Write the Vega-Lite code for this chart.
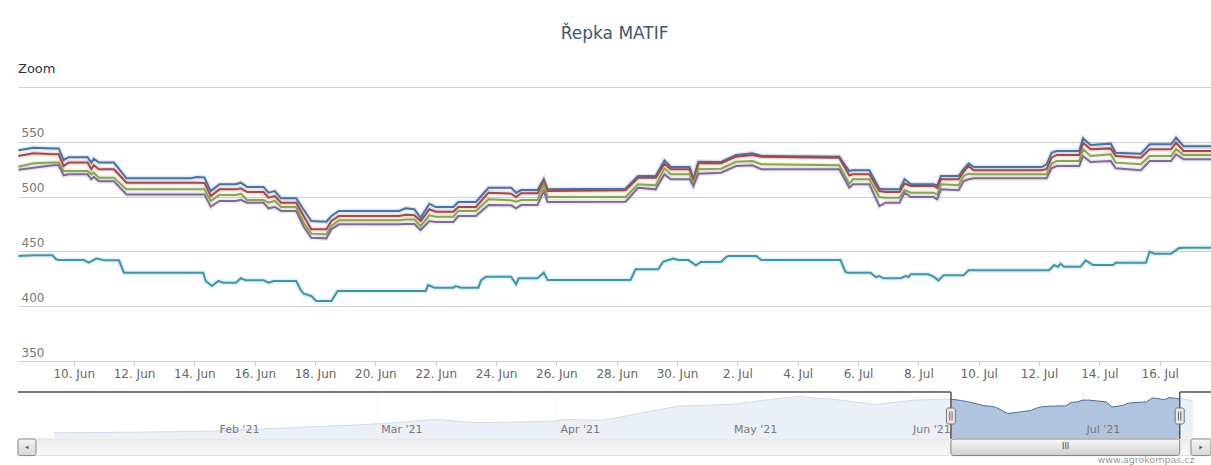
{
  "$schema": "https://vega.github.io/schema/vega-lite/v6.json",
  "background": "#ffffff",
  "padding": {"left": 17, "right": 0, "top": 25, "bottom": 0},
  "title": {"text": "Řepka MATIF", "fontSize": 17, "fontWeight": "normal", "color": "#3E576F", "font": "DejaVu Sans", "anchor": "middle", "offset": 20},
  "spacing": 12,
  "resolve": {"scale": {"x": "independent", "y": "independent", "color": "independent"}},
  "config": {"view": {"stroke": null}, "font": "DejaVu Sans"},
  "datasets": {
    "main": [
      {"t":"2021-06-08T04:00","a":542.2,"b":537,"c":527.3,"d":524.5},
      {"t":"2021-06-08T16:00","a":544.6,"b":539.5,"c":530.4,"d":526.4},
      {"t":"2021-06-09T08:00","a":544,"b":538.6,"c":531,"d":528.6},
      {"t":"2021-06-09T12:00","a":544,"b":538.6,"c":531,"d":528.6},
      {"t":"2021-06-09T16:00","a":533.4,"b":528,"c":523.4,"d":519.4},
      {"t":"2021-06-09T20:00","a":536,"b":531,"c":523.4,"d":520.3},
      {"t":"2021-06-10T11:00","a":536,"b":531,"c":523.4,"d":520.3},
      {"t":"2021-06-10T14:00","a":531,"b":525,"c":520.3,"d":515.8},
      {"t":"2021-06-10T16:00","a":534.6,"b":528.6,"c":522,"d":518},
      {"t":"2021-06-10T20:00","a":531,"b":525,"c":517.3,"d":514},
      {"t":"2021-06-11T08:00","a":531,"b":525,"c":517.3,"d":514},
      {"t":"2021-06-11T18:00","a":516.7,"b":512.7,"c":506.6,"d":502},
      {"t":"2021-06-13T21:00","a":516.7,"b":512.7,"c":506.6,"d":502},
      {"t":"2021-06-14T02:00","a":517.9,"b":512.7,"c":506.6,"d":502},
      {"t":"2021-06-14T08:00","a":517.5,"b":512.5,"c":506.6,"d":502},
      {"t":"2021-06-14T13:00","a":505,"b":500.5,"c":496,"d":490.8},
      {"t":"2021-06-14T20:00","a":511.2,"b":506.6,"c":501.5,"d":496},
      {"t":"2021-06-15T09:00","a":511.2,"b":506.6,"c":501.5,"d":496},
      {"t":"2021-06-15T13:00","a":512.7,"b":507.5,"c":502.5,"d":497},
      {"t":"2021-06-15T18:00","a":508.8,"b":504.2,"c":497,"d":494.4},
      {"t":"2021-06-16T07:00","a":508.8,"b":504.2,"c":497,"d":494.4},
      {"t":"2021-06-16T11:00","a":503.6,"b":499,"c":494.4,"d":489.3},
      {"t":"2021-06-16T16:00","a":505,"b":500.5,"c":496,"d":490.5},
      {"t":"2021-06-16T21:00","a":498.4,"b":494.4,"c":490.5,"d":486.9},
      {"t":"2021-06-17T09:00","a":498.4,"b":494.4,"c":490.5,"d":486.9},
      {"t":"2021-06-17T15:00","a":488,"b":482,"c":476,"d":472.5},
      {"t":"2021-06-17T21:00","a":477.7,"b":470.2,"c":466.2,"d":462.5},
      {"t":"2021-06-18T09:00","a":477.1,"b":470.2,"c":465.6,"d":461.9},
      {"t":"2021-06-18T13:00","a":482.3,"b":477.7,"c":473.2,"d":470.2},
      {"t":"2021-06-18T19:00","a":486.9,"b":482.3,"c":478.4,"d":474.7},
      {"t":"2021-06-20T19:00","a":486.9,"b":482.3,"c":478.4,"d":474.7},
      {"t":"2021-06-21T00:00","a":489.3,"b":483.5,"c":479,"d":475},
      {"t":"2021-06-21T07:00","a":488.5,"b":483,"c":479,"d":475},
      {"t":"2021-06-21T12:00","a":480.8,"b":477.7,"c":473.2,"d":469.5},
      {"t":"2021-06-21T19:00","a":493.5,"b":488.4,"c":482.9,"d":477.7},
      {"t":"2021-06-22T00:00","a":490.5,"b":486.2,"c":481.7,"d":476.8},
      {"t":"2021-06-22T14:00","a":490.5,"b":486.2,"c":481.7,"d":476.8},
      {"t":"2021-06-22T18:00","a":495.1,"b":490.5,"c":486.9,"d":482.3},
      {"t":"2021-06-23T08:00","a":495.1,"b":490.5,"c":486.9,"d":482.3},
      {"t":"2021-06-23T18:00","a":508.1,"b":503.6,"c":497.5,"d":492.3},
      {"t":"2021-06-24T12:00","a":508.1,"b":502.7,"c":496.6,"d":492},
      {"t":"2021-06-24T16:00","a":503.6,"b":499.6,"c":495.4,"d":489.3},
      {"t":"2021-06-24T20:00","a":506,"b":503,"c":496.9,"d":492.3},
      {"t":"2021-06-25T09:00","a":506,"b":503,"c":496.9,"d":492.3},
      {"t":"2021-06-25T14:00","a":515.8,"b":514.2,"c":511.2,"d":505.1},
      {"t":"2021-06-25T17:00","a":506.6,"b":505.1,"c":499.6,"d":495.1},
      {"t":"2021-06-28T07:00","a":507.2,"b":505.7,"c":499.6,"d":495.4},
      {"t":"2021-06-28T17:00","a":518.8,"b":517.2,"c":511.2,"d":508.1},
      {"t":"2021-06-29T07:00","a":518.8,"b":517.2,"c":510.3,"d":506.6},
      {"t":"2021-06-29T14:00","a":533.1,"b":530,"c":525.8,"d":520.3},
      {"t":"2021-06-29T19:00","a":527,"b":525,"c":520.3,"d":515.8},
      {"t":"2021-06-30T10:00","a":527,"b":525,"c":520.3,"d":515.8},
      {"t":"2021-06-30T13:00","a":515.8,"b":514.2,"c":511.8,"d":509.7},
      {"t":"2021-06-30T17:00","a":531.8,"b":530.4,"c":525,"d":520.9},
      {"t":"2021-07-01T11:00","a":531.6,"b":530.4,"c":525.5,"d":521.8},
      {"t":"2021-07-01T23:00","a":538,"b":536.4,"c":531.8,"d":527.9},
      {"t":"2021-07-02T12:00","a":539.5,"b":538,"c":532.5,"d":528.6},
      {"t":"2021-07-02T19:00","a":537,"b":536.4,"c":529.5,"d":525},
      {"t":"2021-07-05T09:00","a":536.4,"b":535.5,"c":528.6,"d":525},
      {"t":"2021-07-05T17:00","a":523.4,"b":519.4,"c":511.8,"d":508.1},
      {"t":"2021-07-05T20:00","a":524,"b":520.3,"c":515.8,"d":511.2},
      {"t":"2021-07-06T09:00","a":524,"b":520.3,"c":515.8,"d":511.2},
      {"t":"2021-07-06T17:00","a":507.2,"b":505.1,"c":499.6,"d":491.4},
      {"t":"2021-07-06T22:00","a":506.6,"b":504.2,"c":499,"d":494.4},
      {"t":"2021-07-07T09:00","a":506.6,"b":504.2,"c":499,"d":494.4},
      {"t":"2021-07-07T13:00","a":515.8,"b":512,"c":506,"d":503.6},
      {"t":"2021-07-07T18:00","a":511.2,"b":509.7,"c":503.6,"d":499.6},
      {"t":"2021-07-08T12:00","a":511.2,"b":509.7,"c":503.6,"d":499.6},
      {"t":"2021-07-08T15:00","a":510,"b":508,"c":502,"d":497.5},
      {"t":"2021-07-08T18:00","a":518.8,"b":515.8,"c":511.2,"d":506.6},
      {"t":"2021-07-09T08:00","a":518.8,"b":515.8,"c":510.3,"d":505.8},
      {"t":"2021-07-09T12:00","a":525,"b":522.8,"c":518.8,"d":514.2},
      {"t":"2021-07-09T16:00","a":530.4,"b":528,"c":520.9,"d":515.8},
      {"t":"2021-07-09T20:00","a":527,"b":524,"c":520.3,"d":516.7},
      {"t":"2021-07-12T02:00","a":527,"b":524,"c":520.3,"d":516.7},
      {"t":"2021-07-12T06:00","a":529.5,"b":525,"c":520.3,"d":516.7},
      {"t":"2021-07-12T10:00","a":540,"b":535.5,"c":530,"d":525.8},
      {"t":"2021-07-12T14:00","a":541.6,"b":538,"c":532.5,"d":527.9},
      {"t":"2021-07-13T08:00","a":541.6,"b":538,"c":532.5,"d":527.9},
      {"t":"2021-07-13T11:00","a":553.2,"b":549.2,"c":543.2,"d":537},
      {"t":"2021-07-13T17:00","a":547,"b":543.2,"c":537,"d":531.6},
      {"t":"2021-07-14T09:00","a":548.3,"b":544,"c":538.6,"d":532.5},
      {"t":"2021-07-14T13:00","a":540,"b":537,"c":531,"d":525.8},
      {"t":"2021-07-15T09:00","a":539.2,"b":535.5,"c":529.5,"d":524},
      {"t":"2021-07-15T16:00","a":547.7,"b":543.2,"c":537,"d":532.5},
      {"t":"2021-07-16T09:00","a":547.7,"b":543.2,"c":537,"d":532.5},
      {"t":"2021-07-16T13:00","a":553.8,"b":549.2,"c":543.2,"d":538.6},
      {"t":"2021-07-16T19:00","a":546,"b":541.6,"c":538,"d":534},
      {"t":"2021-07-17T18:00","a":546,"b":541.6,"c":538,"d":534},
      {"t":"2021-06-08T04:00","e":445.8},
      {"t":"2021-06-08T16:00","e":446.4},
      {"t":"2021-06-09T07:00","e":446.4},
      {"t":"2021-06-09T10:00","e":442.8},
      {"t":"2021-06-09T12:00","e":442.1},
      {"t":"2021-06-10T08:00","e":442.1},
      {"t":"2021-06-10T12:00","e":439.7},
      {"t":"2021-06-10T18:00","e":443.4},
      {"t":"2021-06-10T20:00","e":443},
      {"t":"2021-06-11T00:00","e":441.9},
      {"t":"2021-06-11T12:00","e":441.9},
      {"t":"2021-06-11T16:00","e":430.6},
      {"t":"2021-06-14T07:00","e":430.6},
      {"t":"2021-06-14T09:00","e":423},
      {"t":"2021-06-14T14:00","e":418.4},
      {"t":"2021-06-14T19:00","e":423},
      {"t":"2021-06-14T23:00","e":421.4},
      {"t":"2021-06-15T09:00","e":421.4},
      {"t":"2021-06-15T13:00","e":425.5},
      {"t":"2021-06-15T17:00","e":423.6},
      {"t":"2021-06-16T07:00","e":423.6},
      {"t":"2021-06-16T11:00","e":421.4},
      {"t":"2021-06-16T15:00","e":423},
      {"t":"2021-06-17T09:00","e":423},
      {"t":"2021-06-17T13:00","e":413.9},
      {"t":"2021-06-17T15:00","e":411.4},
      {"t":"2021-06-17T21:00","e":409.3},
      {"t":"2021-06-18T01:00","e":404.8},
      {"t":"2021-06-18T13:00","e":404.8},
      {"t":"2021-06-18T18:00","e":413.9},
      {"t":"2021-06-21T16:00","e":413.9},
      {"t":"2021-06-21T18:00","e":419.3},
      {"t":"2021-06-21T23:00","e":416.9},
      {"t":"2021-06-22T14:00","e":416.9},
      {"t":"2021-06-22T16:00","e":418.4},
      {"t":"2021-06-22T20:00","e":416.9},
      {"t":"2021-06-23T10:00","e":416.9},
      {"t":"2021-06-23T12:00","e":423.6},
      {"t":"2021-06-23T16:00","e":426.9},
      {"t":"2021-06-24T12:00","e":426.9},
      {"t":"2021-06-24T16:00","e":420},
      {"t":"2021-06-24T18:00","e":425.5},
      {"t":"2021-06-25T09:00","e":425.5},
      {"t":"2021-06-25T14:00","e":430.6},
      {"t":"2021-06-25T17:00","e":423.9},
      {"t":"2021-06-28T11:00","e":423.9},
      {"t":"2021-06-28T15:00","e":433.7},
      {"t":"2021-06-29T09:00","e":433.7},
      {"t":"2021-06-29T13:00","e":440.6},
      {"t":"2021-06-29T21:00","e":443.4},
      {"t":"2021-06-30T01:00","e":442.1},
      {"t":"2021-06-30T09:00","e":442.1},
      {"t":"2021-06-30T15:00","e":437.3},
      {"t":"2021-06-30T19:00","e":440.3},
      {"t":"2021-07-01T11:00","e":440.3},
      {"t":"2021-07-01T15:00","e":444.9},
      {"t":"2021-07-01T17:00","e":445.8},
      {"t":"2021-07-02T15:00","e":445.8},
      {"t":"2021-07-02T19:00","e":442.1},
      {"t":"2021-07-05T10:00","e":442.1},
      {"t":"2021-07-05T14:00","e":431.2},
      {"t":"2021-07-05T16:00","e":430.6},
      {"t":"2021-07-06T10:00","e":430.6},
      {"t":"2021-07-06T14:00","e":426.6},
      {"t":"2021-07-06T17:00","e":427.5},
      {"t":"2021-07-06T20:00","e":425.5},
      {"t":"2021-07-07T10:00","e":425.5},
      {"t":"2021-07-07T14:00","e":427.6},
      {"t":"2021-07-07T16:00","e":426.5},
      {"t":"2021-07-07T18:00","e":429.1},
      {"t":"2021-07-08T08:00","e":429.1},
      {"t":"2021-07-08T12:00","e":427},
      {"t":"2021-07-08T16:00","e":423.6},
      {"t":"2021-07-08T20:00","e":428.2},
      {"t":"2021-07-09T12:00","e":428.2},
      {"t":"2021-07-09T16:00","e":432.8},
      {"t":"2021-07-12T08:00","e":432.8},
      {"t":"2021-07-12T12:00","e":437.6},
      {"t":"2021-07-12T15:00","e":435.8},
      {"t":"2021-07-12T17:00","e":438.8},
      {"t":"2021-07-12T20:00","e":436},
      {"t":"2021-07-13T09:00","e":436},
      {"t":"2021-07-13T13:00","e":441.9},
      {"t":"2021-07-13T19:00","e":437.6},
      {"t":"2021-07-14T11:00","e":437.6},
      {"t":"2021-07-14T13:00","e":439.7},
      {"t":"2021-07-15T13:00","e":439.7},
      {"t":"2021-07-15T16:00","e":449.7},
      {"t":"2021-07-15T20:00","e":447.9},
      {"t":"2021-07-16T09:00","e":447.9},
      {"t":"2021-07-16T15:00","e":452.8},
      {"t":"2021-07-16T19:00","e":453.4},
      {"t":"2021-07-17T18:00","e":453.4}
    ],
    "nav": [
      {"a":"2021-01-04T00:00","v":389},
      {"a":"2021-01-11T00:00","v":390},
      {"a":"2021-01-21T00:00","v":392.5},
      {"a":"2021-02-01T00:00","v":397},
      {"a":"2021-02-11T00:00","v":409},
      {"a":"2021-02-25T00:00","v":424},
      {"a":"2021-03-04T00:00","v":435},
      {"a":"2021-03-11T00:00","v":450},
      {"a":"2021-03-18T00:00","v":435},
      {"a":"2021-03-25T00:00","v":438},
      {"a":"2021-04-01T00:00","v":442.5},
      {"a":"2021-04-02T00:00","v":450},
      {"a":"2021-04-09T00:00","v":446},
      {"a":"2021-04-15T00:00","v":476},
      {"a":"2021-04-22T00:00","v":511},
      {"a":"2021-05-01T00:00","v":518},
      {"a":"2021-05-08T00:00","v":541},
      {"a":"2021-05-13T00:00","v":556},
      {"a":"2021-05-15T00:00","v":548},
      {"a":"2021-05-19T00:00","v":541},
      {"a":"2021-05-26T00:00","v":518},
      {"a":"2021-06-02T00:00","v":538},
      {"a":"2021-06-08T00:00","v":543},
      {"a":"2021-06-10T00:00","v":536},
      {"a":"2021-06-11T00:00","v":531},
      {"a":"2021-06-14T00:00","v":512},
      {"a":"2021-06-15T00:00","v":510},
      {"a":"2021-06-16T00:00","v":505},
      {"a":"2021-06-17T00:00","v":490},
      {"a":"2021-06-18T00:00","v":477},
      {"a":"2021-06-21T00:00","v":487},
      {"a":"2021-06-22T00:00","v":491},
      {"a":"2021-06-23T00:00","v":502},
      {"a":"2021-06-24T00:00","v":508},
      {"a":"2021-06-25T00:00","v":510},
      {"a":"2021-06-28T00:00","v":512},
      {"a":"2021-06-29T00:00","v":528},
      {"a":"2021-06-30T00:00","v":530},
      {"a":"2021-07-01T00:00","v":538},
      {"a":"2021-07-02T00:00","v":538},
      {"a":"2021-07-05T00:00","v":530},
      {"a":"2021-07-06T00:00","v":507},
      {"a":"2021-07-07T00:00","v":510},
      {"a":"2021-07-08T00:00","v":515},
      {"a":"2021-07-09T00:00","v":525},
      {"a":"2021-07-12T00:00","v":530},
      {"a":"2021-07-13T00:00","v":548},
      {"a":"2021-07-14T00:00","v":545},
      {"a":"2021-07-15T00:00","v":540},
      {"a":"2021-07-16T00:00","v":550},
      {"a":"2021-07-17T00:00","v":546},
      {"a":"2021-07-19T00:00","v":540},
      {"a":"2021-07-20T00:00","v":533}
    ],
    "navm": [
      {"a":"2021-02-01T00:00"},{"a":"2021-03-01T00:00"},{"a":"2021-04-01T00:00"},
      {"a":"2021-05-01T00:00"},{"a":"2021-06-01T00:00"},{"a":"2021-07-01T00:00"}
    ],
    "navw": [
      {"p":"mask","a":"2020-12-28T18:00","b":"2021-06-08T03:41"},
      {"p":"mask","a":"2021-07-17T17:36","b":"2021-07-23T03:30"},
      {"p":"track","a":"2020-12-28T18:00","b":"2021-07-23T03:30"},
      {"p":"button","a":"2020-12-28T18:00","b":"2020-12-31T20:40"},
      {"p":"button","a":"2021-07-19T16:26","b":"2021-07-23T03:30"},
      {"p":"arrow","a":"2020-12-30T07:00","sh":"triangle-left"},
      {"p":"arrow","a":"2021-07-21T10:00","sh":"triangle-right"},
      {"p":"thumb","a":"2021-06-08T03:41","b":"2021-07-17T17:36"},
      {"p":"iii","a":"2021-06-27T23:36"},
      {"p":"oh","a":"2020-12-28T18:00","b":"2021-06-08T03:41"},
      {"p":"oh","a":"2021-07-17T17:36","b":"2021-07-23T03:30"},
      {"p":"ov","a":"2021-06-08T03:41"},
      {"p":"ov","a":"2021-07-17T17:36"},
      {"p":"handle","a":"2021-06-07T09:00","b":"2021-06-08T22:22"},
      {"p":"handle","a":"2021-07-16T22:54","b":"2021-07-18T12:18"},
      {"p":"grip","a":"2021-06-07T22:53"},
      {"p":"grip","a":"2021-06-08T08:29"},
      {"p":"grip","a":"2021-07-17T12:48"},
      {"p":"grip","a":"2021-07-17T22:24"},
      {"p":"wm","a":"2021-07-11T21:36"}
    ]
  },
  "vconcat": [
    {
      "title": {"text": "Zoom", "anchor": "start", "fontSize": 13, "fontWeight": "normal", "color": "#333333", "font": "DejaVu Sans", "offset": 11},
      "width": 1194,
      "height": 274,
      "data": {"name": "main"},
      "transform": [
        {"fold": ["a", "b", "c", "d", "e"], "as": ["k", "v"]},
        {"filter": "isValid(datum.v) && isFinite(datum.v)"}
      ],
      "encoding": {
        "x": {
          "field": "t", "type": "temporal",
          "scale": {"domain": [{"year":2021,"month":6,"date":8,"hours":3,"minutes":41},{"year":2021,"month":7,"date":17,"hours":17,"minutes":36}]},
          "axis": {
            "values": [
              {"year":2021,"month":6,"date":10},{"year":2021,"month":6,"date":12},{"year":2021,"month":6,"date":14},
              {"year":2021,"month":6,"date":16},{"year":2021,"month":6,"date":18},{"year":2021,"month":6,"date":20},
              {"year":2021,"month":6,"date":22},{"year":2021,"month":6,"date":24},{"year":2021,"month":6,"date":26},
              {"year":2021,"month":6,"date":28},{"year":2021,"month":6,"date":30},{"year":2021,"month":7,"date":2},
              {"year":2021,"month":7,"date":4},{"year":2021,"month":7,"date":6},{"year":2021,"month":7,"date":8},
              {"year":2021,"month":7,"date":10},{"year":2021,"month":7,"date":12},{"year":2021,"month":7,"date":14},
              {"year":2021,"month":7,"date":16}
            ],
            "format": "%-d. %b",
            "title": null,
            "grid": false,
            "domainColor": "#C0D0E0",
            "tickColor": "#C0D0E0",
            "tickSize": 5,
            "labelPadding": 2,
            "labelFontSize": 12,
            "labelColor": "#666666",
            "labelFlush": false,
            "labelOverlap": false
          }
        },
        "y": {
          "field": "v", "type": "quantitative",
          "scale": {"domain": [350, 600], "nice": false, "zero": false},
          "axis": {
            "values": [350, 400, 450, 500, 550, 600],
            "labelExpr": "datum.value >= 600 ? '' : datum.label",
            "title": null,
            "domain": false,
            "ticks": false,
            "labelAlign": "left",
            "labelBaseline": "bottom",
            "labelPadding": -3,
            "labelOffset": -2,
            "labelFontSize": 12,
            "labelColor": "#777777",
            "gridColor": "#D0D0D0",
            "gridWidth": 1
          }
        },
        "color": {
          "field": "k", "type": "nominal",
          "scale": {"domain": ["a", "b", "c", "d", "e"], "range": ["#4572A7", "#AA4643", "#89A54E", "#80699B", "#3D96AE"]},
          "legend": null
        }
      },
      "layer": [
        {"mark": {"type": "line", "strokeWidth": 5, "opacity": 0.15, "clip": true}},
        {"mark": {"type": "line", "strokeWidth": 2, "clip": true}}
      ]
    },
    {
      "width": 1193,
      "height": 64,
      "encoding": {
        "x": {
          "field": "a", "type": "temporal",
          "scale": {"domain": [{"year":2020,"month":12,"date":28,"hours":18},{"year":2021,"month":7,"date":23,"hours":3,"minutes":30}]},
          "axis": {
            "values": [
              {"year":2021,"month":2,"date":1},{"year":2021,"month":3,"date":1},{"year":2021,"month":4,"date":1},
              {"year":2021,"month":5,"date":1},{"year":2021,"month":6,"date":1},{"year":2021,"month":7,"date":1}
            ],
            "format": "%b '%y",
            "title": null,
            "grid": false,
            "domain": false,
            "ticks": false,
            "labelAlign": "left",
            "labelBaseline": "top",
            "labelPadding": -33,
            "labelOffset": 3,
            "labelFontSize": 11,
            "labelColor": "#777777",
            "labelFlush": false,
            "labelOverlap": false,
            "zindex": 1
          }
        }
      },
      "layer": [
        {
          "data": {"name": "navm"},
          "mark": {"type": "rule", "color": "#E8E8E8", "strokeWidth": 1},
          "encoding": {
            "y": {"datum": 365, "type": "quantitative", "scale": {"domain": [283, 575], "nice": false, "zero": false}, "axis": null},
            "y2": {"datum": 575}
          }
        },
        {
          "data": {"name": "nav"},
          "mark": {"type": "area", "color": "#B0C4DE", "opacity": 1, "line": {"color": "#4572A7", "strokeWidth": 1}},
          "encoding": {
            "y": {"field": "v", "type": "quantitative", "scale": {"domain": [283, 575], "nice": false, "zero": false}, "axis": null},
            "y2": {"datum": 365}
          }
        },
        {
          "data": {"name": "navw"},
          "transform": [{"filter": "datum.p == 'mask'"}],
          "mark": {"type": "rect", "color": "#FFFFFF", "opacity": 0.75},
          "encoding": {
            "x2": {"field": "b"},
            "y": {"datum": 365, "type": "quantitative", "scale": {"domain": [283, 575], "nice": false, "zero": false}, "axis": null},
            "y2": {"datum": 575}
          }
        },
        {
          "data": {"name": "navw"},
          "transform": [{"filter": "datum.p == 'track'"}],
          "mark": {"type": "rect", "fill": {"gradient": "linear", "x1": 0, "y1": 0, "x2": 0, "y2": 1, "stops": [{"offset": 0, "color": "#EEEEEE"}, {"offset": 1, "color": "#F8F8F8"}]}, "stroke": "#E0E0E0", "strokeWidth": 1},
          "encoding": {
            "x2": {"field": "b"},
            "y": {"datum": 360.6, "type": "quantitative", "scale": {"domain": [283, 575], "nice": false, "zero": false}, "axis": null},
            "y2": {"datum": 285}
          }
        },
        {
          "data": {"name": "navw"},
          "transform": [{"filter": "datum.p == 'button'"}],
          "mark": {"type": "rect", "fill": {"gradient": "linear", "x1": 0, "y1": 0, "x2": 0, "y2": 1, "stops": [{"offset": 0, "color": "#F5F5F5"}, {"offset": 1, "color": "#D8D8D8"}]}, "stroke": "#888888", "strokeWidth": 1, "cornerRadius": 2},
          "encoding": {
            "x2": {"field": "b"},
            "y": {"datum": 360.6, "type": "quantitative", "scale": {"domain": [283, 575], "nice": false, "zero": false}, "axis": null},
            "y2": {"datum": 285}
          }
        },
        {
          "data": {"name": "navw"},
          "transform": [{"filter": "datum.p == 'arrow'"}],
          "mark": {"type": "point", "filled": true, "color": "#555555", "size": 14, "opacity": 1},
          "encoding": {
            "shape": {"field": "sh", "type": "nominal", "scale": null},
            "y": {"datum": 322, "type": "quantitative", "scale": {"domain": [283, 575], "nice": false, "zero": false}, "axis": null}
          }
        },
        {
          "data": {"name": "navw"},
          "transform": [{"filter": "datum.p == 'thumb'"}],
          "mark": {"type": "rect", "fill": {"gradient": "linear", "x1": 0, "y1": 0, "x2": 0, "y2": 1, "stops": [{"offset": 0, "color": "#F8F8F8"}, {"offset": 1, "color": "#D0D0D0"}]}, "stroke": "#808080", "strokeWidth": 1, "cornerRadius": 3},
          "encoding": {
            "x2": {"field": "b"},
            "y": {"datum": 360.6, "type": "quantitative", "scale": {"domain": [283, 575], "nice": false, "zero": false}, "axis": null},
            "y2": {"datum": 285}
          }
        },
        {
          "data": {"name": "navw"},
          "transform": [{"filter": "datum.p == 'iii'"}],
          "mark": {"type": "text", "text": "III", "fontSize": 8, "color": "#444444", "align": "center", "baseline": "middle"},
          "encoding": {
            "y": {"datum": 322, "type": "quantitative", "scale": {"domain": [283, 575], "nice": false, "zero": false}, "axis": null}
          }
        },
        {
          "data": {"name": "navw"},
          "transform": [{"filter": "datum.p == 'oh'"}],
          "mark": {"type": "rule", "color": "#555555", "strokeWidth": 1.5},
          "encoding": {
            "x2": {"field": "b"},
            "y": {"datum": 575, "type": "quantitative", "scale": {"domain": [283, 575], "nice": false, "zero": false}, "axis": null}
          }
        },
        {
          "data": {"name": "navw"},
          "transform": [{"filter": "datum.p == 'ov'"}],
          "mark": {"type": "rule", "color": "#555555", "strokeWidth": 1.5},
          "encoding": {
            "y": {"datum": 575, "type": "quantitative", "scale": {"domain": [283, 575], "nice": false, "zero": false}, "axis": null},
            "y2": {"datum": 360.6}
          }
        },
        {
          "data": {"name": "navw"},
          "transform": [{"filter": "datum.p == 'handle'"}],
          "mark": {"type": "rect", "color": "#EBE7E8", "stroke": "#777777", "strokeWidth": 1, "cornerRadius": 2},
          "encoding": {
            "x2": {"field": "b"},
            "y": {"datum": 502, "type": "quantitative", "scale": {"domain": [283, 575], "nice": false, "zero": false}, "axis": null},
            "y2": {"datum": 429}
          }
        },
        {
          "data": {"name": "navw"},
          "transform": [{"filter": "datum.p == 'grip'"}],
          "mark": {"type": "rule", "color": "#666666", "strokeWidth": 1},
          "encoding": {
            "y": {"datum": 486, "type": "quantitative", "scale": {"domain": [283, 575], "nice": false, "zero": false}, "axis": null},
            "y2": {"datum": 445}
          }
        },
        {
          "data": {"name": "navw"},
          "transform": [{"filter": "datum.p == 'wm'"}],
          "mark": {"type": "text", "text": "www.agrokompas.cz", "fontSize": 9.5, "color": "#999999", "align": "center", "baseline": "middle"},
          "encoding": {
            "y": {"datum": 266, "type": "quantitative", "scale": {"domain": [283, 575], "nice": false, "zero": false}, "axis": null}
          }
        }
      ]
    }
  ]
}
